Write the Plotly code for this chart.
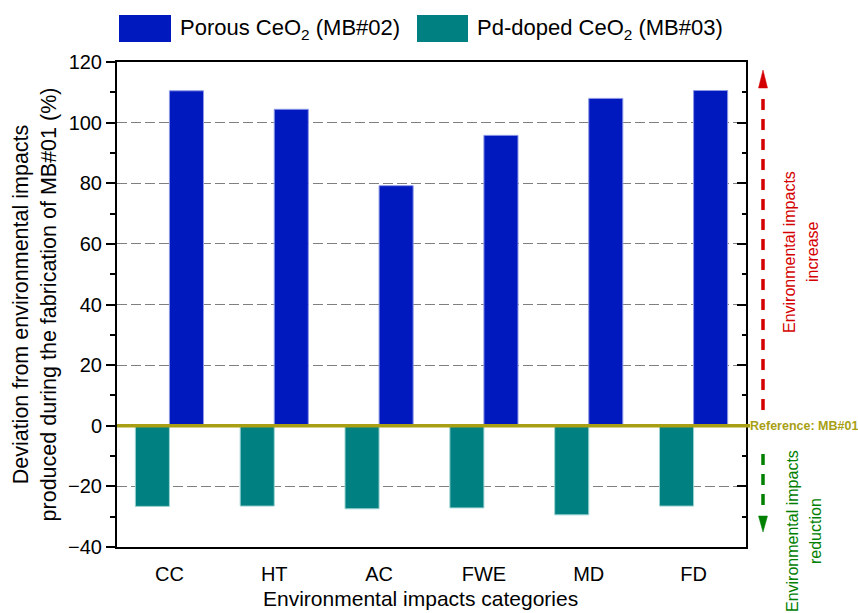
import plotly.graph_objects as go

# Environmental impact categories and deviation (%) relative to MB#01
categories = ["CC", "HT", "AC", "FWE", "MD", "FD"]
porous_ceo2 = [110.5, 104.4, 79.2, 95.8, 108.0, 110.6]      # MB#02
pd_doped_ceo2 = [-26.6, -26.5, -27.4, -27.1, -29.4, -26.5]  # MB#03
y_ticks = [-40, -20, 0, 20, 40, 60, 80, 100, 120]

BLUE = "#0019BE"
TEAL = "#008080"
OLIVE = "#A89F14"
RED = "#D40000"
GREEN = "#008000"
FONT = "Liberation Sans, Arial, sans-serif"

W, H = 858, 613
L, R, T, B = 117, 112, 62, 66
PW, PH = W - L - R, H - T - B
Y0, Y1 = -40, 120


def px_x(p):
    """pixel column -> paper x"""
    return (p - L) / PW


def px_y(p):
    """pixel row -> paper y"""
    return (H - B - p) / PH


def val_y(p):
    """pixel row -> data y"""
    return Y1 - (p - T) / PH * (Y1 - Y0)


fig = go.Figure()

fig.add_trace(go.Bar(
    x=categories, y=pd_doped_ceo2, name="Pd-doped CeO<sub>2</sub> (MB#03)",
    marker=dict(color=TEAL, line=dict(color="#9fd3d3", width=1)),
    showlegend=False,
))
fig.add_trace(go.Bar(
    x=categories, y=porous_ceo2, name="Porous CeO<sub>2</sub> (MB#02)",
    marker=dict(color=BLUE, line=dict(color="#8c98e6", width=1)),
    showlegend=False,
))
# empty trace so the right-hand mirror axis is rendered
fig.add_trace(go.Scatter(x=[], y=[], yaxis="y2", showlegend=False, hoverinfo="skip"))

axis_common = dict(
    range=[Y0, Y1], tickvals=y_ticks, showline=True, linecolor="black", linewidth=2,
    zeroline=False, automargin=False,
)

fig.update_layout(
    width=W, height=H,
    margin=dict(l=L, r=R, t=T, b=B, pad=0),
    paper_bgcolor="white", plot_bgcolor="white",
    barmode="group", bargap=0.35, bargroupgap=0,
    font=dict(family=FONT, color="black"),
    xaxis=dict(
        type="category", range=[-0.5, 5.5], showline=True, linecolor="black", linewidth=2,
        mirror=True, ticks="", showgrid=False, tickfont=dict(size=20),
        ticklabelstandoff=8, automargin=False,
    ),
    yaxis=dict(
        **axis_common,
        ticks="outside", ticklen=9, tickwidth=2, tickcolor="black",
        minor=dict(dtick=10, ticks="outside", ticklen=5, tickwidth=2, tickcolor="black", showgrid=False),
        showgrid=True, gridcolor="#808080", gridwidth=1, griddash="10px,4px",
        tickfont=dict(size=20),
        title=dict(
            text="Deviation from environmental impacts<br>produced during the fabrication of MB#01 (%)",
            font=dict(size=21.5), standoff=6,
        ),
    ),
    yaxis2=dict(
        **axis_common,
        overlaying="y", side="right", anchor="x",
        ticks="inside", ticklen=9, tickwidth=2, tickcolor="black",
        minor=dict(dtick=10, ticks="inside", ticklen=4, tickwidth=2, tickcolor="black"),
        showgrid=False, showticklabels=False,
    ),
)

# x-axis title
fig.add_annotation(text="Environmental impacts categories", xref="paper", yref="paper",
                   x=px_x(420), y=px_y(598), xanchor="center", yanchor="middle",
                   showarrow=False, font=dict(size=21, color="black", family=FONT))

# reference line at zero (MB#01)
fig.add_shape(type="line", xref="paper", yref="y", x0=0, x1=px_x(750), y0=0, y1=0,
              line=dict(color=OLIVE, width=3.5), layer="above")
fig.add_annotation(text="<b>Reference: MB#01</b>", xref="paper", yref="y",
                   x=px_x(748), y=0, xanchor="left", yanchor="middle", showarrow=False,
                   font=dict(size=12.5, color=OLIVE, family=FONT))

# dashed direction arrows on the right
ax_c = 763
ax_x = px_x(ax_c)


def arrow_head(tip, base, color):
    path = (f"M {px_x(ax_c - 4.5)} {px_y(base)} L {px_x(ax_c + 4.5)} {px_y(base)} "
            f"L {px_x(ax_c)} {px_y(tip)} Z")
    fig.add_shape(type="path", xref="paper", yref="paper", path=path,
                  fillcolor=color, line=dict(color=color, width=0.5))


fig.add_shape(type="line", xref="paper", yref="y", x0=ax_x, x1=ax_x,
              y0=val_y(410), y1=val_y(90), line=dict(color=RED, width=3.5, dash="11px,9px"))
arrow_head(70, 88, RED)
fig.add_shape(type="line", xref="paper", yref="y", x0=ax_x, x1=ax_x,
              y0=val_y(454), y1=val_y(514), line=dict(color=GREEN, width=3.5, dash="11px,9px"))
arrow_head(532, 516, GREEN)

for txt, cx, cy, col in [
    ("Environmental impacts", 789, 252, RED),
    ("increase", 812, 252, RED),
    ("Environmental impacts", 792, 531, GREEN),
    ("reduction", 815, 531, GREEN),
]:
    fig.add_annotation(text=txt, xref="paper", yref="paper", x=px_x(cx), y=px_y(cy),
                       textangle=-90, showarrow=False, xanchor="center", yanchor="middle",
                       font=dict(size=16, color=col, family=FONT))

# legend drawn as swatches + labels across the top
for (x0, x1, tx, label, col) in [
    (119, 171, 178, "Porous CeO<sub>2</sub> (MB#02)", BLUE),
    (417, 468, 475, "Pd-doped CeO<sub>2</sub> (MB#03)", TEAL),
]:
    fig.add_shape(type="rect", xref="paper", yref="paper",
                  x0=px_x(x0), x1=px_x(x1), y0=px_y(42), y1=px_y(15),
                  fillcolor=col, line=dict(width=0))
    fig.add_annotation(text=label, xref="paper", yref="paper", x=px_x(tx), y=px_y(28.5),
                       xanchor="left", yanchor="middle", showarrow=False,
                       font=dict(size=22, color="black", family=FONT))

fig.write_html("out.html")
